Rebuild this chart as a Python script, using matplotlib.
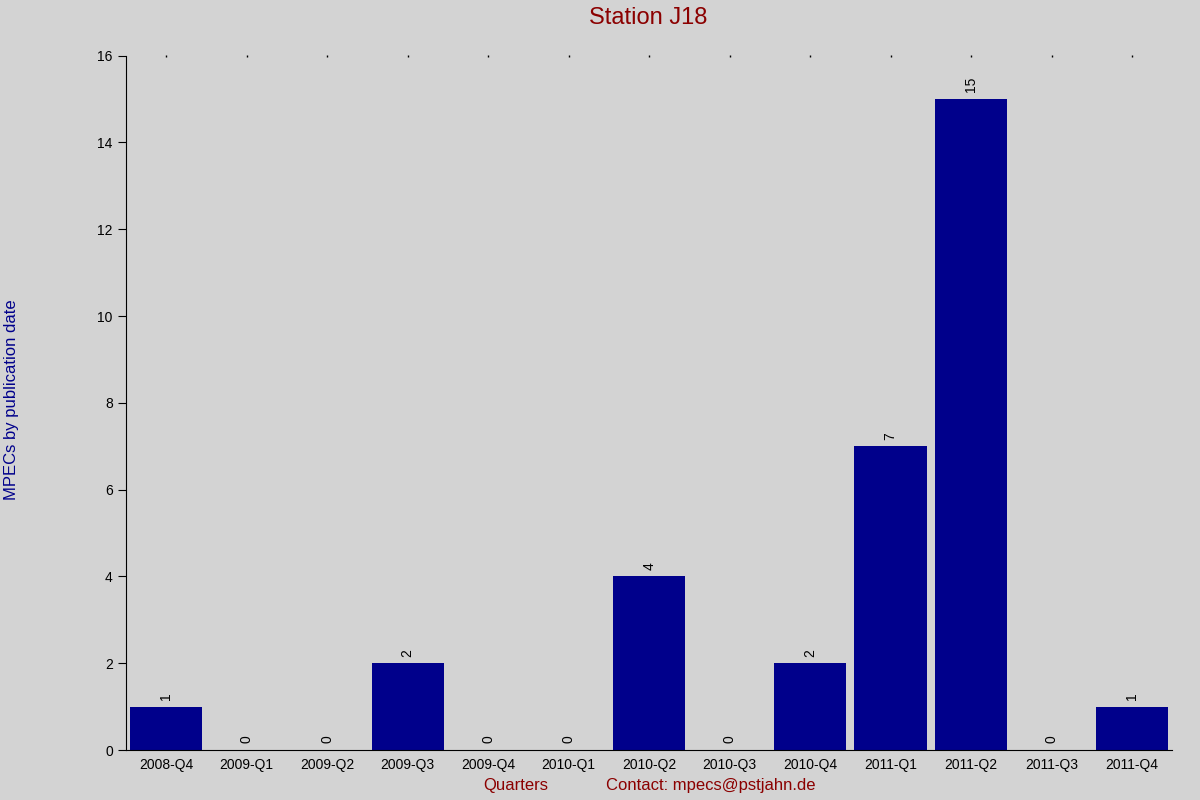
import matplotlib
matplotlib.use("Agg")
import matplotlib.pyplot as plt

plt.rcParams['font.family'] = ['Liberation Sans', 'DejaVu Sans']

quarters = ["2008-Q4", "2009-Q1", "2009-Q2", "2009-Q3", "2009-Q4", "2010-Q1", "2010-Q2",
            "2010-Q3", "2010-Q4", "2011-Q1", "2011-Q2", "2011-Q3", "2011-Q4"]
counts = [1, 0, 0, 2, 0, 0, 4, 0, 2, 7, 15, 0, 1]

bg = "#d3d3d3"
fig = plt.figure(figsize=(12, 8), dpi=100, facecolor=bg)
ax = fig.add_axes([0.105, 0.0625, 0.872, 0.868], facecolor=bg)

x = range(len(quarters))
ax.bar(x, counts, width=0.9, color="#00008b")
for i, v in zip(x, counts):
    ax.text(i, v + 0.15, str(v), rotation=90, ha="center", va="bottom", fontsize=10)

ax.set_xlim(-0.5, len(quarters) - 0.5)
ax.set_ylim(0, 16)
ax.set_yticks(range(0, 17, 2))
ax.set_xticks(list(x))
ax.set_xticklabels(quarters, fontsize=10)
ax.tick_params(axis="y", labelsize=10, direction="out", length=6)
ax.tick_params(axis="x", length=0, pad=6)
ax.spines["top"].set_visible(False)
ax.spines["right"].set_visible(False)
# small dots along the top at each category
for i in x:
    ax.plot(i, 16, marker="|", color="black", markersize=2, clip_on=False)

fig.text(0.54, 0.977, "Station J18", ha="center", va="center", fontsize=17, color="#8b0000")
fig.text(0.01, 0.5, "MPECs by publication date", rotation=90, ha="center", va="center",
         fontsize=12, color="#00008b")
fig.text(0.43, 0.018, "Quarters", ha="center", va="center", fontsize=12, color="#8b0000")
fig.text(0.592, 0.018, "Contact: mpecs@pstjahn.de", ha="center", va="center", fontsize=12,
         color="#8b0000")

fig.savefig("out.png", dpi=100, facecolor=bg)
